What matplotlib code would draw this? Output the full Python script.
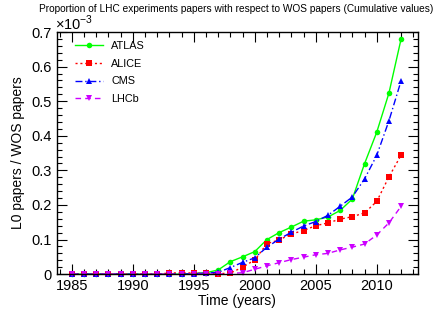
import matplotlib
matplotlib.use('Agg')
import matplotlib.pyplot as plt
import numpy as np
from matplotlib.ticker import MultipleLocator, FuncFormatter

plt.rcParams['font.family'] = ['Liberation Sans', 'DejaVu Sans']
plt.rcParams['mathtext.fontset'] = 'custom'
plt.rcParams['mathtext.rm'] = 'Liberation Sans'

# values in units of 1e-3
years = list(range(1985, 2013))
atlas = [0] * 10 + [0.002, 0.004, 0.012, 0.036, 0.050, 0.065, 0.100, 0.120, 0.136,
                    0.153, 0.157, 0.165, 0.184, 0.217, 0.319, 0.410, 0.523, 0.680]
alice = [0] * 8 + [0.003, 0.004, 0.003, 0.002, 0.001, 0.003, 0.020, 0.041, 0.088, 0.099,
                   0.116, 0.126, 0.140, 0.148, 0.159, 0.166, 0.177, 0.210, 0.281, 0.344]
cms = [0] * 10 + [0.001, 0.003, 0.005, 0.019, 0.034, 0.047, 0.078, 0.101, 0.121,
                  0.139, 0.152, 0.170, 0.196, 0.223, 0.275, 0.343, 0.443, 0.559]
lhcb = [0] * 13 + [0.002, 0.004, 0.014, 0.024, 0.033, 0.042, 0.049, 0.056, 0.060,
                   0.070, 0.078, 0.087, 0.113, 0.148, 0.196]

series = [
    ('ATLAS', atlas, '#00ff00', '-', 'o', 4.0),
    ('ALICE', alice, '#ff0000', (0, (1.5, 2.0)), 's', 3.8),
    ('CMS', cms, '#0000ff', (0, (5, 2, 1, 2)), '^', 4.2),
    ('LHCb', lhcb, '#cc00ff', (0, (4, 3)), 'v', 4.2),
]

fig = plt.figure(figsize=(4.4, 3.14), dpi=100)
ax = fig.add_axes([0.129, 0.127, 0.820, 0.771])

for name, vals, col, ls, mk, ms in series:
    ax.plot(years, vals, color=col, linestyle=ls, linewidth=1.0,
            marker=mk, markersize=ms, markeredgewidth=0, label=name,
            clip_on=False)

ax.set_xlim(1983.77, 2013.35)
ax.set_ylim(0, 0.7)
ax.xaxis.set_major_locator(MultipleLocator(5))
ax.xaxis.set_minor_locator(MultipleLocator(1))
ax.yaxis.set_major_locator(MultipleLocator(0.1))
ax.yaxis.set_minor_locator(MultipleLocator(0.02))
ax.yaxis.set_major_formatter(FuncFormatter(lambda v, _: f'{v:g}'))

ax.tick_params(which='both', direction='in', top=True, right=True,
               labelsize=10.5, width=0.8, color='black')
ax.tick_params(which='major', length=7, pad=3.5)
ax.tick_params(which='minor', length=3.5)
for s in ax.spines.values():
    s.set_linewidth(1.0)

ax.set_xlabel('Time (years)', fontsize=10, labelpad=0.5)
ax.set_ylabel('L0 papers / WOS papers', fontsize=10, labelpad=5)

ax.text(-0.005, 1.008, r'$\times$10$^{-3}$', transform=ax.transAxes,
        ha='left', va='baseline', fontsize=10.5)
fig.text(0.536, 0.970, 'Proportion of LHC experiments papers with respect to WOS papers (Cumulative values)',
         ha='center', va='center', fontsize=7.3)

ax.legend(loc='upper left', bbox_to_anchor=(0.05, 0.962), frameon=False,
          fontsize=7.8, handlelength=2.6, handletextpad=0.75, labelspacing=0.7,
          borderpad=0, borderaxespad=0)

fig.savefig('out.png', dpi=100)
